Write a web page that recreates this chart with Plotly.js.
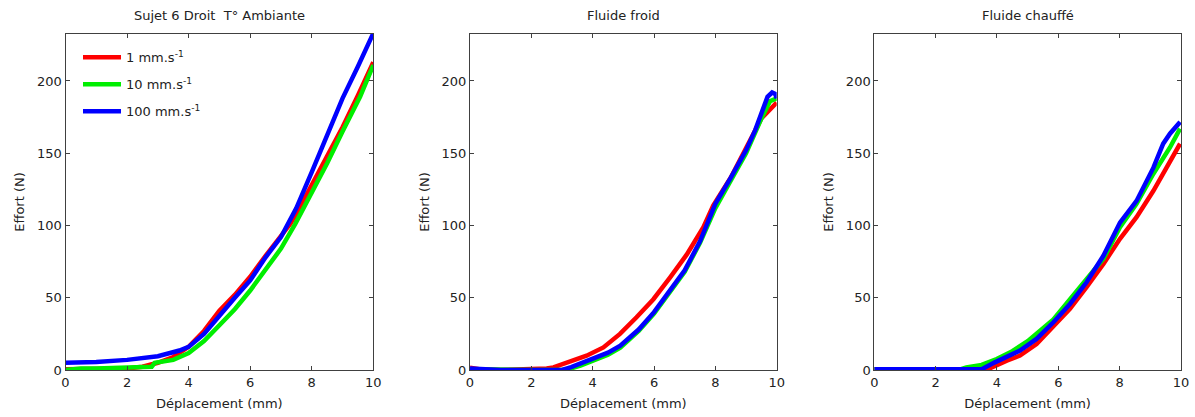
<!DOCTYPE html>
<html><head><meta charset="utf-8">
<script src="https://cdn.plot.ly/plotly-3.0.1.min.js"></script>
<style>body{margin:0;background:#fff}#c{width:1195px;height:417px}</style>
</head><body><div id="c"></div>
<script>
// Panel titles and series names
const panelTitles = ["Sujet 6 Droit  T° Ambiante", "Fluide froid", "Fluide chauffé"];
const seriesNames = ["1 mm.s<sup>-1</sup>", "10 mm.s<sup>-1</sup>", "100 mm.s<sup>-1</sup>"];
const seriesColors = ["#ff0000", "#00ee00", "#0000ff"];

// Panel 1 : Sujet 6 Droit T° Ambiante
const p1RedX   = [0,1,2,2.5,3,3.5,4,4.5,5,5.5,6,6.5,7,7.3,7.5,8,8.4,9,9.5,10];
const p1RedY   = [0.5,0.5,1,2.3,5,9,16,27,41,52,64.5,79,92,101,108,128,143,168,190,213];
const p1GreenX = [0,0.5,1,2,2.8,2.9,3.5,4,4.5,5,5.5,6,6.5,7,7.46,8,8.5,9,9.57,10];
const p1GreenY = [0,1,1,1.5,2.3,5,7,11.7,20,31,42,55,69,84,101,122,143,165,189,211];
const p1BlueX  = [0,1,2,3,3.7,4,4.5,5,5.5,6,6.5,7,7.5,8,8.5,9,9.5,10];
const p1BlueY  = [5,5.5,7,9.5,13.5,16,25,38,50,62,78,92,112,137,162,188,210,233];

// Panel 2 : Fluide froid
const p2RedX   = [0,0.3,1,2,2.5,2.72,3.26,3.8,4.35,4.89,5.43,5.98,6.52,7.07,7.61,7.93,8.5,9,9.5,10];
const p2RedY   = [1.5,0.5,0,0.3,1,1.8,5.7,9.9,15.6,25,36.5,49,64,80,98.8,113.8,133,153,174,185];
const p2GreenX = [0,1,2,3,3.2,3.6,4,4.5,4.9,5.5,6,6.5,7,7.5,8,8.5,9,9.5,9.78,10];
const p2GreenY = [0.5,0,0,0,0.5,3,6,10.5,15.5,27,39,53,68,88,112,131,150,174,186,188];
const p2BlueX  = [0,0.5,1,2,3,3.3,3.6,4,4.5,4.9,5.5,6,6.5,7,7.5,8,8.5,9,9.3,9.56,9.7,9.85,9.95,10];
const p2BlueY  = [1,0.5,0,0,0,2,4.5,7.6,12,16.8,28,40,54,69,89,115,133,152,166,182,189,192,191,188];

// Panel 3 : Fluide chauffé
const p3RedX   = [0,1,2,3,3.7,4.32,4.75,5.29,5.84,6.38,6.92,7.47,8.01,8.55,9.1,9.64,9.97];
const p3RedY   = [0.5,0.5,0,0,0.5,6.5,10,18,30.7,42.3,57.3,73.4,90.8,105.8,124,145,156.6];
const p3GreenX = [0,1,2,2.8,3,3.5,3.99,4.5,5,5.84,6.92,7.47,8.01,8.55,9.1,9.64,9.97];
const p3GreenY = [0.5,0,0,0.5,1.8,3.5,7.6,13,20,35,63,77,98.8,115,135.8,154,167];
const p3BlueX  = [0,1,2,3,3.5,3.93,4.75,5.29,5.84,6.38,6.92,7.47,8.01,8.55,9.1,9.42,9.64,9.97];
const p3BlueY  = [0.5,0.5,0,0,0.5,5.3,13.4,21.5,33,45.7,60.7,79,102,117,140,156.6,163.5,171.6];

const xTickVals = [0,2,4,6,8,10];
const yTickVals = [0,50,100,150,200];
const xTitle = "Déplacement (mm)";
const yTitle = "Effort (N)";

const panels = [
  [[p1RedX,p1RedY],[p1GreenX,p1GreenY],[p1BlueX,p1BlueY]],
  [[p2RedX,p2RedY],[p2GreenX,p2GreenY],[p2BlueX,p2BlueY]],
  [[p3RedX,p3RedY],[p3GreenX,p3GreenY],[p3BlueX,p3BlueY]]
];

const W = 1195;
const domainsPx = [[65.5,373.3],[470,776.7],[874.3,1181]];
const font = {family: "DejaVu Sans, Verdana, sans-serif", size: 13, color: "#222"};

const traces = [];
panels.forEach((p, i) => {
  p.forEach((s, j) => {
    traces.push({
      x: s[0], y: s[1], type: "scatter", mode: "lines",
      name: seriesNames[j], legendgroup: "g" + j,
      showlegend: i === 0,
      line: {color: seriesColors[j], width: 4.5},
      xaxis: i === 0 ? "x" : "x" + (i + 1),
      yaxis: i === 0 ? "y" : "y" + (i + 1)
    });
  });
});

const layout = {
  width: 1195, height: 417,
  margin: {l: 0, r: 0, t: 34, b: 47},
  paper_bgcolor: "#fff", plot_bgcolor: "#fff",
  font: font,
  showlegend: true,
  legend: {x: 78 / W, y: 0.975, xanchor: "left", yanchor: "top", itemwidth: 38,
           bgcolor: "rgba(0,0,0,0)", tracegroupgap: 7, font: font},
  annotations: []
};

domainsPx.forEach((d, i) => {
  const sx = i === 0 ? "" : String(i + 1);
  const ax = {
    domain: [d[0] / W, d[1] / W], range: [0, 10],
    tickvals: xTickVals, ticks: "inside", ticklen: 4, tickcolor: "#404040",
    showline: true, linecolor: "#404040", linewidth: 1, mirror: "ticks",
    showgrid: false, zeroline: false, anchor: "y" + sx,
    title: {text: xTitle, font: font, standoff: 10}, tickfont: font
  };
  const ay = {
    domain: [0, 1], range: [0, 232.5],
    tickvals: yTickVals, ticks: "inside", ticklen: 4, tickcolor: "#404040",
    showline: true, linecolor: "#404040", linewidth: 1, mirror: "ticks",
    showgrid: false, zeroline: false, anchor: "x" + sx,
    title: {text: yTitle, font: font, standoff: 9}, tickfont: font
  };
  layout["xaxis" + sx] = ax;
  layout["yaxis" + sx] = ay;
  layout.annotations.push({
    text: panelTitles[i], xref: "x" + sx + " domain", yref: "paper",
    x: 0.5, y: 1, xanchor: "center", yanchor: "bottom", yshift: 9,
    showarrow: false, font: font
  });
});

Plotly.newPlot("c", traces, layout, {staticPlot: true});
</script>
</body></html>
